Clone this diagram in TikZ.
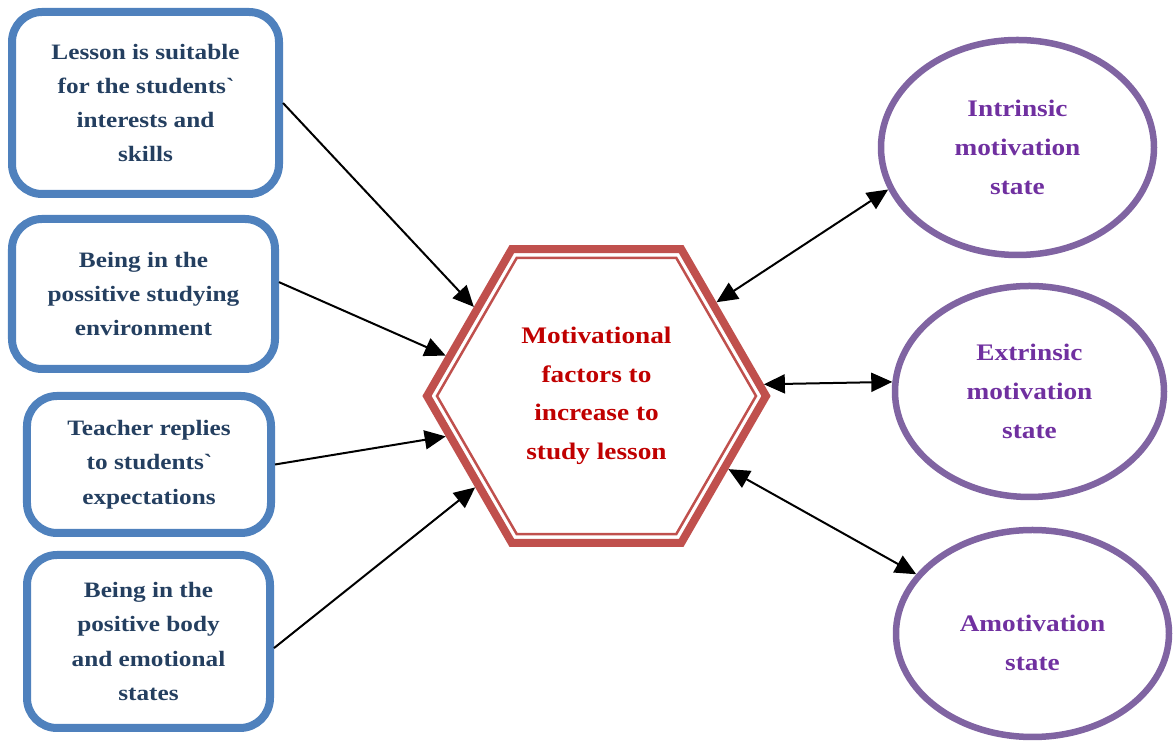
\documentclass[tikz,border=0pt]{standalone}
\usepackage{fontspec}
\setmainfont[FakeStretch=1.15]{Liberation Serif}
\usetikzlibrary{shapes.geometric,arrows.meta}

\definecolor{boxblue}{HTML}{4F81BD}
\definecolor{boxtext}{HTML}{243F60}
\definecolor{hexred}{HTML}{C0504D}
\definecolor{hextext}{HTML}{C00000}
\definecolor{ovalpurple}{HTML}{8064A2}
\definecolor{ovaltext}{HTML}{7030A0}

\tikzset{
	factor/.style={draw=boxblue, line width=0.16cm, rounded corners=0.6cm, inner sep=0pt,
		align=center, text=boxtext, font=\fontsize{12.5}{19.5}\selectfont\bfseries},
	hexouter/.style={regular polygon, regular polygon sides=6, draw=hexred, line width=0.16cm, inner sep=0pt},
	hexinner/.style={regular polygon, regular polygon sides=6, draw=hexred, line width=0.05cm, inner sep=0pt},
	motstate/.style={ellipse, draw=ovalpurple, line width=0.13cm, inner sep=0pt,
		align=center, text=ovaltext, font=\fontsize{13.5}{22}\selectfont\bfseries},
	link/.style={line width=0.04cm, -{Triangle[length=0.42cm,width=0.38cm]}},
	twoway/.style={line width=0.04cm, {Triangle[length=0.42cm,width=0.38cm]}-{Triangle[length=0.42cm,width=0.38cm]}},
}

\begin{document}
\begin{tikzpicture}
	\useasboundingbox (0,0) rectangle (23.46,14.84);
	% factors
	\node[factor, minimum width=5.34cm, minimum height=3.64cm] (b1) at (2.91,12.78) {Lesson is suitable\\for the students\textasciigrave\\interests and\\skills};
	\node[factor, minimum width=5.26cm, minimum height=3.0cm] (b2) at (2.87,8.96) {Being in the\\possitive studying\\environment};
	\node[factor, minimum width=4.88cm, minimum height=2.74cm] (b3) at (2.98,5.55) {Teacher replies\\to students\textasciigrave\\expectations};
	\node[factor, minimum width=4.86cm, minimum height=3.46cm] (b4) at (2.97,2.01) {Being in the\\positive body\\and emotional\\states};
	
	% central hexagon
	\node[hexouter, minimum size=6.78cm] (hex) at (11.93,6.92) {};
	\node[hexinner, minimum size=6.38cm] (hexin) at (hex) {};
	\node[align=center, text=hextext, font=\fontsize{13.5}{22}\selectfont\bfseries] (hexlabel) at (hex) {Motivational\\factors to\\increase to\\study lesson};
	
	% states
	\node[motstate, minimum width=5.46cm, minimum height=4.3cm] (e1) at (20.35,11.89) {Intrinsic\\motivation\\state};
	\node[motstate, minimum width=5.38cm, minimum height=4.22cm] (e2) at (20.59,7.01) {Extrinsic\\motivation\\state};
	\node[motstate, minimum width=5.46cm, minimum height=4.14cm] (e3) at (20.65,2.17) {};
	\node[align=center, text=ovaltext, font=\fontsize{13.5}{22}\selectfont\bfseries] (e3label) at (20.65,1.98) {Amotivation\\state};
	
	% arrows
	\draw[link] (b1.east) -- (hex.144);
	\draw[link] (b2.5) -- (hex.165);
	\draw[link] (b3.east) -- (hex.195);
	\draw[link] (b4.-3) -- (hex.217);
	
	\draw[twoway] (hex.38) -- (e1.198);
	\draw[twoway] (hex.4.3) -- (e2.176.3);
	\draw[twoway] (hex.-29) -- (e3.153);
	
\end{tikzpicture}
\end{document}
